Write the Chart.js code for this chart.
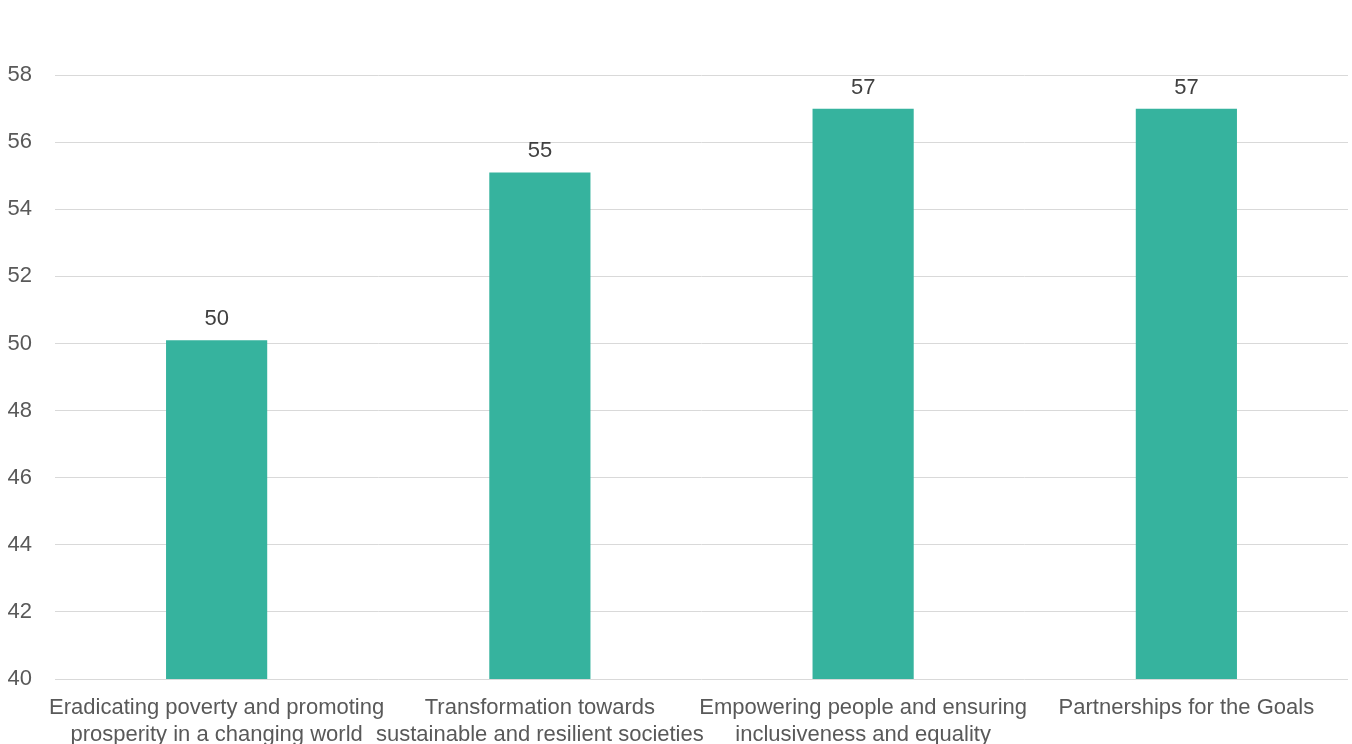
<!DOCTYPE html>
<html>
<head>
<meta charset="utf-8">
<script src="https://cdn.jsdelivr.net/npm/chart.js@4/dist/chart.umd.min.js"></script>
<style>
  html, body { margin: 0; padding: 0; background: #fff; overflow: hidden; }
  #wrap { position: absolute; left: 0; top: -40px; width: 1352px; height: 820px; }
</style>
</head>
<body>
<div id="wrap"><canvas id="chart"></canvas></div>
<script>
const categories = [
  ['Eradicating poverty and promoting', 'prosperity in a changing world'],
  ['Transformation towards', 'sustainable and resilient societies'],
  ['Empowering people and ensuring', 'inclusiveness and equality'],
  ['Partnerships for the Goals']
];
const scores = [50.1, 55.1, 57.0, 57.0];
const yMin = 40;
const yMax = 60;
const yStep = 2;

// value labels above each bar
const barLabels = {
  id: 'barLabels',
  afterDatasetsDraw(chart) {
    const ctx = chart.ctx;
    const meta = chart.getDatasetMeta(0);
    ctx.save();
    ctx.font = '22px "Liberation Sans", Arial, sans-serif';
    ctx.fillStyle = '#404040';
    ctx.textAlign = 'center';
    ctx.textBaseline = 'middle';
    meta.data.forEach((bar, i) => {
      ctx.fillText(Math.round(scores[i]), bar.x, bar.y - 21);
    });
    ctx.restore();
  }
};

const ctx = document.getElementById('chart').getContext('2d');
new Chart(ctx, {
  type: 'bar',
  data: {
    labels: categories,
    datasets: [{
      data: scores,
      backgroundColor: '#36b39e',
      borderWidth: 0,
      barPercentage: 0.313,
      categoryPercentage: 1
    }]
  },
  options: {
    responsive: true,
    maintainAspectRatio: false,
    animation: false,
    layout: { padding: { top: 48, right: 4, left: 0, bottom: 0 } },
    plugins: {
      legend: { display: false },
      tooltip: { enabled: false }
    },
    scales: {
      x: {
        grid: { display: false, drawTicks: false },
        border: { display: false },
        ticks: {
          color: '#595959',
          padding: 15,
          maxRotation: 0,
          autoSkip: false,
          font: { family: '"Liberation Sans", Arial, sans-serif', size: 22, lineHeight: 1.23 }
        },
        afterFit(scale) { scale.height = 101; }
      },
      y: {
        min: yMin,
        max: yMax,
        grid: {
          // top line sits under the (cropped) title in the original
          color: (c) => (c.tick && c.tick.value === yMax ? 'rgba(0,0,0,0)' : '#d9d9d9'),
          drawTicks: false
        },
        border: { display: false },
        ticks: {
          stepSize: yStep,
          color: '#595959',
          padding: 23,
          font: { family: '"Liberation Sans", Arial, sans-serif', size: 22 },
          callback: (v) => (v === yMax ? '' : v)
        },
        afterFit(scale) { scale.width = 55; }
      }
    }
  },
  plugins: [barLabels]
});
</script>
</body>
</html>
